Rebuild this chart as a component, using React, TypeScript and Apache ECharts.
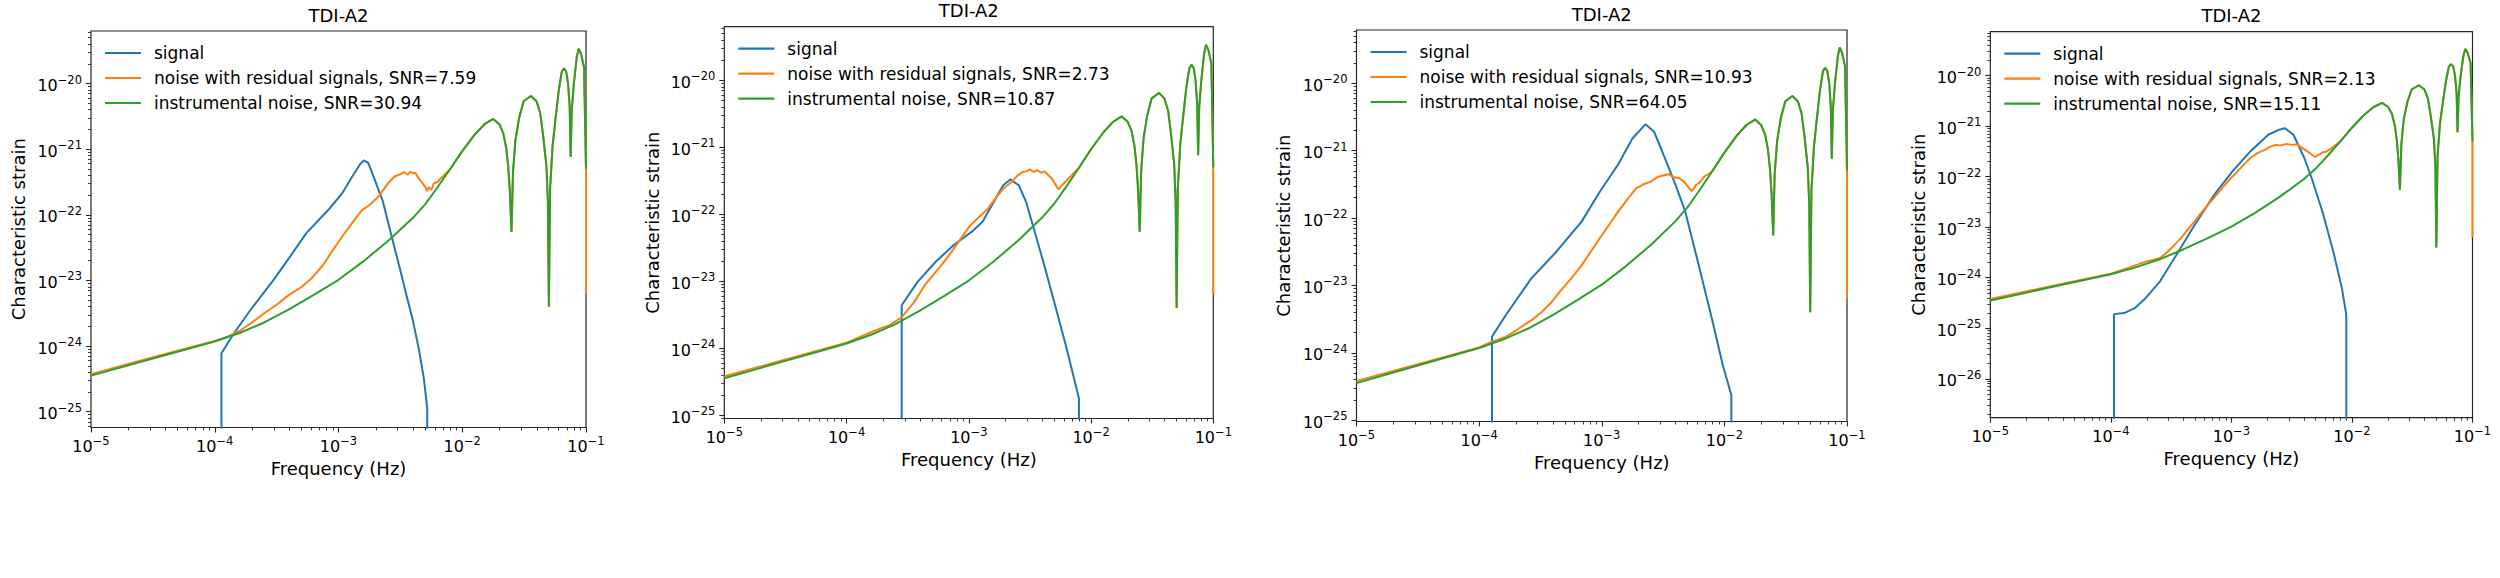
import React, { useEffect, useRef } from 'react';
import * as echarts from 'echarts';

type Pt = [number, number];

const FONT = "'DejaVu Sans', 'Noto Sans', sans-serif";
const SIGNAL_COLOR = '#1f77b4';
const RESIDUAL_COLOR = '#ff7f0e';
const INSTRUMENT_COLOR = '#2ca02c';
const INK = '#000000';
const SPINE = '#262626';

const titleText = 'TDI-A2';
const xAxisTitle = 'Frequency (Hz)';
const yAxisTitle = 'Characteristic strain';
const signalName = 'signal';
const xTickExponents = [-5, -4, -3, -2, -1];
const yTickExponents = [-26, -25, -24, -23, -22, -21, -20, -19];
const snrResidual = ['7.59', '2.73', '10.93', '2.13'];
const snrInstrumental = ['30.94', '10.87', '64.05', '15.11'];
// log10 of a vanishing signal (drawn down past the axis bottom)
const SIGNAL_ZERO = -30;

// [log10 frequency (Hz), log10 characteristic strain]
const instrumentalNoise: Pt[] = [
  [-5.0, -24.45], [-4.75, -24.32], [-4.5, -24.19], [-4.25, -24.06], [-4.0, -23.93],
  [-3.8, -23.80], [-3.6, -23.64], [-3.4, -23.44], [-3.2, -23.22], [-3.0, -22.99],
  [-2.8, -22.71], [-2.6, -22.40], [-2.4, -22.05], [-2.3, -21.84], [-2.2, -21.58],
  [-2.1, -21.31], [-2.0, -21.03], [-1.9, -20.78], [-1.82, -20.62], [-1.75, -20.54],
  [-1.70, -20.62], [-1.668, -20.76], [-1.645, -20.98], [-1.628, -21.27], [-1.615, -21.65],
  [-1.602, -22.26], [-1.59, -21.35], [-1.57, -20.86], [-1.54, -20.52], [-1.504, -20.27],
  [-1.445, -20.19], [-1.40, -20.27], [-1.37, -20.45], [-1.346, -20.80], [-1.32, -21.25],
  [-1.308, -21.8], [-1.30, -23.40], [-1.29, -21.6], [-1.27, -20.95], [-1.25, -20.6],
  [-1.22, -20.1], [-1.196, -19.82], [-1.178, -19.77], [-1.16, -19.82], [-1.145, -20.0],
  [-1.132, -20.35], [-1.124, -21.12], [-1.115, -20.4], [-1.098, -20.0], [-1.075, -19.6],
  [-1.059, -19.47], [-1.04, -19.55], [-1.016, -19.75], [-1.0, -21.3],
];
const residualEdge: Pt = [-1.0, -23.2];

const residualLow1: Pt[] = [
  [-5.0, -24.43], [-4.5, -24.17], [-4.0, -23.92], [-3.9, -23.86], [-3.8, -23.77],
  [-3.7, -23.64], [-3.6, -23.50], [-3.5, -23.37], [-3.4, -23.22], [-3.3, -23.10],
  [-3.23, -22.99], [-3.13, -22.78], [-3.05, -22.55], [-2.97, -22.33], [-2.88, -22.10],
  [-2.81, -21.93], [-2.75, -21.85], [-2.68, -21.73], [-2.60, -21.52], [-2.55, -21.42],
  [-2.50, -21.38], [-2.47, -21.35], [-2.44, -21.39], [-2.42, -21.34], [-2.40, -21.37],
  [-2.38, -21.36], [-2.35, -21.45], [-2.32, -21.52], [-2.30, -21.57], [-2.285, -21.64],
  [-2.27, -21.58], [-2.25, -21.62], [-2.23, -21.52], [-2.20, -21.50], [-2.17, -21.44],
];
const residualLow2: Pt[] = [
  [-5.0, -24.42], [-4.5, -24.17], [-4.0, -23.92], [-3.9, -23.84], [-3.80, -23.76],
  [-3.72, -23.70], [-3.65, -23.66], [-3.55, -23.54], [-3.45, -23.32], [-3.36, -23.06],
  [-3.27, -22.86], [-3.18, -22.66], [-3.064, -22.36], [-2.99, -22.17], [-2.916, -22.04],
  [-2.85, -21.93], [-2.797, -21.80], [-2.72, -21.62], [-2.65, -21.52], [-2.60, -21.42],
  [-2.561, -21.37], [-2.53, -21.36], [-2.50, -21.33], [-2.47, -21.37], [-2.44, -21.34],
  [-2.41, -21.38], [-2.38, -21.36], [-2.353, -21.41], [-2.32, -21.47], [-2.294, -21.55],
  [-2.265, -21.63], [-2.245, -21.58], [-2.223, -21.54], [-2.20, -21.50], [-2.176, -21.45],
];
const residualLow3: Pt[] = [
  [-5.0, -24.42], [-4.5, -24.17], [-4.0, -23.92], [-3.9, -23.84], [-3.78, -23.76],
  [-3.70, -23.67], [-3.635, -23.59], [-3.56, -23.50], [-3.487, -23.39], [-3.41, -23.25],
  [-3.34, -23.09], [-3.25, -22.90], [-3.163, -22.70], [-3.09, -22.50], [-3.016, -22.30],
  [-2.94, -22.10], [-2.868, -21.91], [-2.79, -21.72], [-2.72, -21.56], [-2.66, -21.50],
  [-2.60, -21.46], [-2.543, -21.39], [-2.50, -21.37], [-2.455, -21.35], [-2.42, -21.39],
  [-2.366, -21.41], [-2.33, -21.46], [-2.308, -21.51], [-2.266, -21.60], [-2.245, -21.55],
  [-2.23, -21.51], [-2.20, -21.47], [-2.16, -21.38],
];
const residualLow4: Pt[] = [
  [-5.0, -24.42], [-4.5, -24.17], [-4.0, -23.92], [-3.85, -23.80], [-3.71, -23.68],
  [-3.65, -23.65], [-3.592, -23.61], [-3.53, -23.49], [-3.472, -23.35], [-3.41, -23.19],
  [-3.352, -23.02], [-3.29, -22.84], [-3.232, -22.66], [-3.17, -22.49], [-3.112, -22.33],
  [-3.05, -22.15], [-2.993, -22.00], [-2.92, -21.82], [-2.843, -21.63], [-2.78, -21.53],
  [-2.723, -21.47], [-2.68, -21.41], [-2.634, -21.37], [-2.59, -21.38], [-2.544, -21.35],
  [-2.50, -21.37], [-2.454, -21.36], [-2.42, -21.42], [-2.382, -21.48], [-2.34, -21.55],
  [-2.305, -21.61], [-2.27, -21.56], [-2.245, -21.52], [-2.21, -21.50], [-2.17, -21.44],
];

const signal1: Pt[] = [
  [-3.946, SIGNAL_ZERO], [-3.946, -24.11], [-3.85, -23.82], [-3.70, -23.42], [-3.52, -22.98],
  [-3.40, -22.66], [-3.26, -22.28], [-3.07, -21.90], [-2.97, -21.67], [-2.89, -21.42],
  [-2.83, -21.24], [-2.796, -21.17], [-2.76, -21.21], [-2.727, -21.37], [-2.644, -21.78],
  [-2.562, -22.39], [-2.50, -22.85], [-2.448, -23.25], [-2.40, -23.6], [-2.35, -24.05],
  [-2.31, -24.5], [-2.283, -24.95], [-2.283, SIGNAL_ZERO],
];
const signal2: Pt[] = [
  [-3.549, SIGNAL_ZERO], [-3.549, -23.36], [-3.419, -23.01], [-3.271, -22.71], [-3.123, -22.46],
  [-2.975, -22.26], [-2.886, -22.11], [-2.797, -21.82], [-2.72, -21.57], [-2.661, -21.48],
  [-2.59, -21.57], [-2.531, -21.82], [-2.472, -22.19], [-2.383, -22.76], [-2.294, -23.36],
  [-2.206, -23.96], [-2.146, -24.40], [-2.099, -24.75], [-2.099, SIGNAL_ZERO],
];
const signal3: Pt[] = [
  [-3.895, SIGNAL_ZERO], [-3.895, -23.76], [-3.782, -23.44], [-3.576, -22.90], [-3.37, -22.50],
  [-3.163, -22.05], [-3.016, -21.61], [-2.868, -21.21], [-2.75, -20.82], [-2.644, -20.61],
  [-2.573, -20.72], [-2.485, -21.11], [-2.40, -21.50], [-2.32, -21.90], [-2.22, -22.62],
  [-2.102, -23.49], [-2.013, -24.18], [-1.943, -24.63], [-1.943, SIGNAL_ZERO],
];
const signal4: Pt[] = [
  [-3.974, SIGNAL_ZERO], [-3.974, -24.72], [-3.89, -24.70], [-3.80, -24.60], [-3.71, -24.40],
  [-3.592, -24.07], [-3.472, -23.61], [-3.322, -23.02], [-3.143, -22.36], [-2.993, -21.90],
  [-2.843, -21.50], [-2.694, -21.17], [-2.604, -21.07], [-2.556, -21.04], [-2.485, -21.17],
  [-2.395, -21.63], [-2.334, -22.03], [-2.245, -22.69], [-2.155, -23.48], [-2.083, -24.21],
  [-2.047, -24.73], [-2.047, SIGNAL_ZERO],
];

const signals = [signal1, signal2, signal3, signal4];
const residualLows = [residualLow1, residualLow2, residualLow3, residualLow4];

// layout of each subplot (pixels) and its y range (log10)
const panelLayout = [
  { left: 91, top: 31, width: 495, height: 396.5, yMin: -25.24, yMax: -19.2, yNameGap: 64 },
  { left: 724.3, top: 26.7, width: 489, height: 391.8, yMin: -25.05, yMax: -19.2, yNameGap: 63 },
  { left: 1356.5, top: 30, width: 490.5, height: 391.5, yMin: -25.02, yMax: -19.21, yNameGap: 64.5 },
  { left: 1990.3, top: 31.7, width: 482.2, height: 386, yMin: -26.77, yMax: -19.13, yNameGap: 62.5 },
];

const minorLogTicks = (lo: number, hi: number) => {
  const out: number[] = [];
  for (let n = Math.floor(lo); n <= Math.ceil(hi); n++) {
    for (let k = 2; k <= 9; k++) {
      const v = n + Math.log10(k);
      if (v > lo && v < hi) out.push(v);
    }
  }
  return out;
};

const expText = (v: number) => {
  const e = Math.round(v);
  return e < 0 ? '\u2212' + String(-e) : String(e);
};

const richPow = {
  b: { fontSize: 16, lineHeight: 20, fontFamily: FONT, color: INK, verticalAlign: 'bottom' },
  s: { fontSize: 11.5, lineHeight: 10, fontFamily: FONT, color: INK, verticalAlign: 'top' },
};

function buildOption() {
  const grid: any[] = [];
  const xAxis: any[] = [];
  const yAxis: any[] = [];
  const series: any[] = [];
  const legend: any[] = [];
  const graphic: any[] = [];

  panelLayout.forEach((p, i) => {
    grid.push({
      left: p.left, top: p.top, width: p.width, height: p.height,
      show: true, borderColor: SPINE, borderWidth: 1.2, backgroundColor: 'transparent',
      containLabel: false, outerBoundsMode: 'none',
    });

    const xMajor = xTickExponents;
    const yMajor = yTickExponents.filter((e) => e >= p.yMin && e <= p.yMax);

    xAxis.push({
      type: 'value', gridIndex: i, position: 'bottom', min: -5, max: -1,
      axisLine: { show: false, onZero: false },
      axisTick: { show: true, customValues: xMajor, length: 5, lineStyle: { color: SPINE, width: 1.1 } },
      axisLabel: {
        show: true, customValues: xMajor, margin: 7,
        formatter: (v: number) => `{b|10}{s|${expText(v)}}`, rich: richPow,
      },
      splitLine: { show: false },
      name: xAxisTitle, nameLocation: 'middle', nameGap: 31,
      nameTextStyle: { fontSize: 18, fontFamily: FONT, color: INK },
    });
    xAxis.push({
      type: 'value', gridIndex: i, position: 'bottom', min: -5, max: -1,
      axisLine: { show: false, onZero: false },
      axisTick: { show: true, customValues: minorLogTicks(-5, -1), length: 3, lineStyle: { color: SPINE, width: 0.9 } },
      axisLabel: { show: false },
      splitLine: { show: false },
    });
    yAxis.push({
      type: 'value', gridIndex: i, position: 'left', min: p.yMin, max: p.yMax,
      axisLine: { show: false, onZero: false },
      axisTick: { show: true, customValues: yMajor, length: 5, lineStyle: { color: SPINE, width: 1.1 } },
      axisLabel: {
        show: true, customValues: yMajor, margin: 9,
        formatter: (v: number) => `{b|10}{s|${expText(v)}}`, rich: richPow,
      },
      splitLine: { show: false },
      name: yAxisTitle, nameLocation: 'middle', nameGap: p.yNameGap, nameRotate: 90,
      nameTextStyle: { fontSize: 18, fontFamily: FONT, color: INK },
    });
    yAxis.push({
      type: 'value', gridIndex: i, position: 'left', min: p.yMin, max: p.yMax,
      axisLine: { show: false, onZero: false },
      axisTick: { show: true, customValues: minorLogTicks(p.yMin, p.yMax), length: 3, lineStyle: { color: SPINE, width: 0.9 } },
      axisLabel: { show: false },
      splitLine: { show: false },
    });

    const resName = `noise with residual signals, SNR=${snrResidual[i]}`;
    const instName = `instrumental noise, SNR=${snrInstrumental[i]}`;
    const low = residualLows[i];
    const lastLow = low[low.length - 1][0];
    const residual: Pt[] = [
      ...low,
      ...instrumentalNoise.filter((pt) => pt[0] > lastLow + 0.03),
      residualEdge,
    ];

    const common = {
      type: 'line', xAxisIndex: 2 * i, yAxisIndex: 2 * i, symbol: 'none', showSymbol: false,
      clip: true, silent: true, smooth: false, animation: false,
    };
    series.push({ ...common, name: signalName, data: signals[i],
      lineStyle: { width: 2, color: SIGNAL_COLOR }, itemStyle: { color: SIGNAL_COLOR } });
    series.push({ ...common, name: resName, data: residual,
      lineStyle: { width: 2, color: RESIDUAL_COLOR }, itemStyle: { color: RESIDUAL_COLOR } });
    series.push({ ...common, name: instName, data: instrumentalNoise,
      lineStyle: { width: 2, color: INSTRUMENT_COLOR }, itemStyle: { color: INSTRUMENT_COLOR } });

    legend.push({
      show: true, orient: 'vertical', left: p.left + 14, top: p.top + 13.5, padding: 0,
      icon: 'rect', itemWidth: 36, itemHeight: 2.2, itemGap: 8, selectedMode: false,
      itemStyle: { borderWidth: 0 },
      data: [signalName, resName, instName],
      textStyle: { fontSize: 17, color: INK, fontFamily: FONT, lineHeight: 17, padding: [0, 0, 0, 8] },
    });

    graphic.push({
      type: 'text', x: p.left + p.width / 2, y: p.top - 16, silent: true,
      style: { text: titleText, fontSize: 18, fontFamily: FONT, fill: INK, align: 'center', verticalAlign: 'middle' },
    });
  });

  return {
    animation: false,
    backgroundColor: '#ffffff',
    textStyle: { fontFamily: FONT },
    grid, xAxis, yAxis, series, legend, graphic,
  };
}

export default function App() {
  const ref = useRef<HTMLDivElement | null>(null);
  useEffect(() => {
    if (!ref.current) return;
    const chart = echarts.init(ref.current, undefined, { renderer: 'svg' });
    chart.setOption(buildOption() as any);
    return () => chart.dispose();
  }, []);
  return (
    <div
      ref={ref}
      style={{ position: 'fixed', left: 0, top: 0, width: 2500, height: 578, background: '#ffffff' }}
    />
  );
}
